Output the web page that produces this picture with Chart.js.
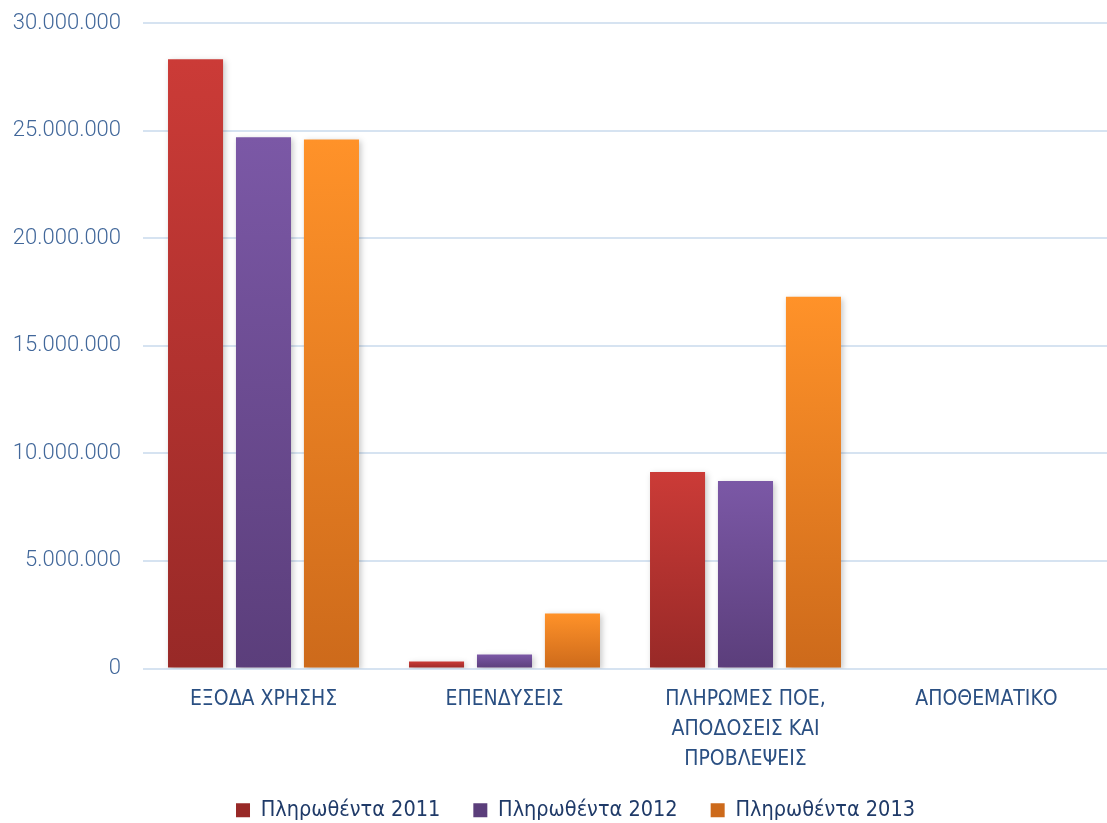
<!DOCTYPE html>
<html>
<head>
<meta charset="utf-8">
<script src="https://cdn.jsdelivr.net/npm/chart.js@4/dist/chart.umd.min.js"></script>
<style>
  html, body { margin: 0; padding: 0; background: #fff; }
  #wrap { width: 1107px; height: 823px; position: relative; }
</style>
</head>
<body>
<div id="wrap"><canvas id="chart"></canvas></div>
<script>
// categories (multi-line ones are arrays)
const categories = [
  'ΕΞΟΔΑ ΧΡΗΣΗΣ',
  'ΕΠΕΝΔΥΣΕΙΣ',
  ['ΠΛΗΡΩΜΕΣ ΠΟΕ,', 'ΑΠΟΔΟΣΕΙΣ ΚΑΙ', 'ΠΡΟΒΛΕΨΕΙΣ'],
  'ΑΠΟΘΕΜΑΤΙΚΟ'
];

const paid2011 = [28320000, 330000, 9130000, 0];
const paid2012 = [24690000, 650000, 8710000, 0];
const paid2013 = [24590000, 2560000, 17280000, 0];

const seriesNames = ['Πληρωθέντα 2011', 'Πληρωθέντα 2012', 'Πληρωθέντα 2013'];
const yTicks = [0, 5000000, 10000000, 15000000, 20000000, 25000000, 30000000];

const NARROW = "'DejaVu Sans Condensed', sans-serif";
const TICKFONT = "Roboto, 'DejaVu Sans', sans-serif";

// vertical gradient per bar, from its top down to zero
function barGradient(top, bottom) {
  return function(ctx) {
    const chart = ctx.chart;
    if (!chart.chartArea || ctx.raw === undefined) return top;
    const y = chart.scales.y;
    const yTop = y.getPixelForValue(ctx.raw);
    const yBase = y.getPixelForValue(0);
    if (!isFinite(yTop) || yBase - yTop < 1) return top;
    const g = chart.ctx.createLinearGradient(0, yTop, 0, yBase);
    g.addColorStop(0, top);
    g.addColorStop(1, bottom);
    return g;
  };
}

// soft grey shadow round the bars
const barShadow = {
  id: 'barShadow',
  beforeDatasetsDraw(chart) {
    const c = chart.ctx;
    c.save();
    c.shadowColor = 'rgba(0,0,0,0.22)';
    c.shadowBlur = 6;
    c.shadowOffsetX = 2;
    c.shadowOffsetY = 2;
  },
  afterDatasetsDraw(chart) {
    chart.ctx.restore();
  }
};

// legend in the original sits a bit right of centre
const legendNudge = {
  id: 'legendNudge',
  afterLayout(chart) {
    if (!chart.legend) return;
    chart.legend.left += 16;
    chart.legend.right += 16;
  }
};

function dots(v) {
  return String(v).replace(/\B(?=(\d{3})+(?!\d))/g, '.');
}

new Chart(document.getElementById('chart'), {
  type: 'bar',
  data: {
    labels: categories,
    datasets: [
      { label: seriesNames[0], data: paid2011, backgroundColor: barGradient('#CB3B37', '#982927') },
      { label: seriesNames[1], data: paid2012, backgroundColor: barGradient('#7B58A6', '#5B3E7B') },
      { label: seriesNames[2], data: paid2013, backgroundColor: barGradient('#FF9229', '#CD6A1B') }
    ]
  },
  options: {
    responsive: true,
    maintainAspectRatio: false,
    animation: false,
    datasets: {
      bar: { categoryPercentage: 0.846, barPercentage: 0.81 }
    },
    layout: { padding: { left: 12, right: 0, top: 23, bottom: -8 } },
    scales: {
      x: {
        grid: { display: false, drawTicks: false },
        border: { display: false },
        afterFit(axis) {
          axis.height = 98;
        },
        ticks: {
          color: '#2A4F82',
          font: { family: NARROW, size: 21, lineHeight: 1.43 },
          padding: 16,
          maxRotation: 0,
          autoSkip: false
        }
      },
      y: {
        min: 0,
        max: 30000000,
        afterBuildTicks(axis) {
          axis.ticks = yTicks.map(v => ({ value: v }));
        },
        afterFit(axis) {
          // the tick padding is also added above/below the axis, drop it
          axis.width = 131;
          axis.paddingTop = 0;
          axis.paddingBottom = 0;
        },
        grid: { color: '#D6E3F1', lineWidth: 2, drawTicks: false },
        border: { display: false },
        ticks: {
          color: '#41679A',
          font: { family: TICKFONT, size: 22, weight: 300 },
          padding: 22,
          callback: v => dots(v)
        }
      }
    },
    plugins: {
      legend: {
        position: 'bottom',
        labels: {
          color: '#1F3A68',
          font: { family: NARROW, size: 21.5 },
          boxWidth: 14,
          boxHeight: 14,
          padding: 33
        }
      },
      tooltip: { enabled: false }
    }
  },
  plugins: [barShadow, legendNudge]
});
</script>
</body>
</html>
